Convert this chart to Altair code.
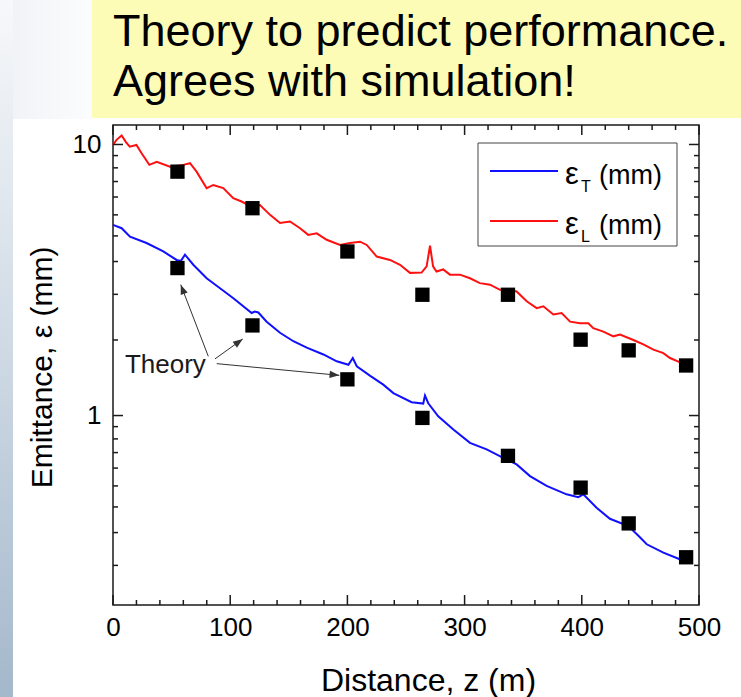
import math
import altair as alt
import pandas as pd

# ---------------- data ----------------
red_z = [0, 3, 7.4, 11, 14.3, 20, 24.4, 31, 37.3, 48.6, 60, 65.7, 71.3, 79.9, 85.6, 94.1,
         102.6, 109.7, 118.3, 125.4, 134, 142.5, 151, 159.6, 166.6, 173.8, 182.3, 193.7,
         202.2, 210.8, 216.5, 225, 236.3, 244.9, 253.4, 263.3, 267.6, 270.5, 273.1, 276,
         281.7, 287.5, 296, 304.6, 313, 321.7, 330.2, 337.3, 344.4, 353, 361.5, 367.2,
         375.7, 382.8, 390, 398.5, 405.6, 409.8, 418.4, 426.9, 432.6, 444, 452.5, 461.1,
         469.6, 475.3, 482.4, 485.2]
red_v = [9.96, 10.4, 10.8, 10.2, 9.81, 9.96, 9.28, 8.41, 8.63, 8.28, 8.41, 8.53, 7.94, 6.9,
         7.09, 6.9, 6.34, 6.16, 5.9, 5.98, 5.5, 5.13, 5.2, 4.91, 4.64, 4.7, 4.45, 4.26,
         4.33, 4.38, 4.26, 3.86, 3.75, 3.6, 3.36, 3.37, 3.55, 4.23, 3.55, 3.4,
         3.46, 3.31, 3.31, 3.21, 3.08, 3.04, 2.91, 2.91, 2.87, 2.64, 2.49, 2.53,
         2.36, 2.39, 2.22, 2.19, 2.19, 2.1, 2.04, 1.96, 1.99, 1.9, 1.83, 1.75,
         1.70, 1.63, 1.58, 1.56]

blue_z = [0, 7.4, 14.5, 28.6, 42.9, 54.3, 58, 61.4, 68.5, 79.9, 91.3, 102.7, 118.3, 121,
          124, 131.1, 142.5, 153.9, 165.3, 179.5, 190.9, 200.9, 204.6, 208, 219.5, 230.6,
          239.2, 254.8, 264.7, 266.2, 269, 277.5, 290.4, 304.6, 318.8, 333, 344.4, 355.8,
          370, 387, 397, 401.3, 412.6, 424, 439.7, 448.3, 455.4, 469.6, 483.6]
blue_v = [5.05, 4.91, 4.57, 4.33, 4.03, 3.75, 3.72, 3.92, 3.6, 3.21, 2.95, 2.71, 2.39, 2.42,
          2.4, 2.22, 2.02, 1.88, 1.78, 1.68, 1.585, 1.54, 1.63, 1.52, 1.40, 1.30,
          1.21, 1.12, 1.107, 1.185, 1.11, 0.994, 0.888, 0.793, 0.75, 0.698, 0.66, 0.598,
          0.55, 0.512, 0.50, 0.512, 0.457, 0.416, 0.391, 0.36, 0.335, 0.312, 0.295]

theory_z = [55, 119, 200, 264, 337, 399, 440, 489]
theory_T = [3.5, 2.15, 1.36, 0.98, 0.71, 0.542, 0.40, 0.30]
theory_L = [7.94, 5.82, 4.03, 2.79, 2.79, 1.905, 1.74, 1.53]

x_major = [0, 100, 200, 300, 400, 500]
x_minor = [20, 40, 60, 80, 120, 140, 160, 180, 220, 240, 260, 280,
           320, 340, 360, 380, 420, 440, 460, 480]
y_major = [1, 10]
y_minor = [0.28, 0.37, 0.46, 0.55, 0.64, 0.73, 0.82, 0.91,
           1.9, 2.8, 3.7, 4.6, 5.5, 6.4, 7.3, 8.2, 9.1]

# annotation arrows (data coordinates)
arrow_z0 = [81.3, 87.0, 88.5]
arrow_v0 = [1.654, 1.618, 1.554]
arrow_z1 = [57.8, 110.7, 193.1]
arrow_v1 = [3.04, 1.916, 1.407]
label_z = [10.2]
label_v = [1.436]
label_text = ["Theory"]

title_lines = ["Theory to predict performance.", "Agrees with simulation!"]

# ---------------- layout ----------------
W, H = 586, 480
XDOM = [0, 500]
YDOM = [0.2, 11.8]
FONT = "Liberation Sans"
INK = "#1a1a1a"

xs = alt.Scale(domain=XDOM, nice=False, zero=False)
ys = alt.Scale(type="log", domain=YDOM, nice=False)

LY0, LY1 = math.log10(YDOM[0]), math.log10(YDOM[1])


def px(z):
    return (z - XDOM[0]) / (XDOM[1] - XDOM[0]) * W


def py(v):
    return H * (LY1 - math.log10(v)) / (LY1 - LY0)


one = pd.DataFrame({"a": [0]})

x_axis = alt.Axis(values=x_major, ticks=False, tickSize=0, domain=False, grid=False,
                  labelFont=FONT, labelFontSize=26, labelColor="black", labelPadding=9,
                  labelFlush=False, labelOverlap=False, labelBound=False, format="d",
                  title="Distance, z (m)", titleFont=FONT, titleFontSize=32,
                  titleFontWeight="normal", titleColor="black", titleX=315, titleY=85,
                  titleAlign="center", titleBaseline="alphabetic", zindex=1)
y_axis = alt.Axis(values=y_major, ticks=False, tickSize=0, domain=False, grid=False,
                  labelFont=FONT, labelFontSize=26, labelColor="black", labelPadding=12,
                  labelFlush=False, labelOverlap=False, labelBound=False, format="~g",
                  title="Emittance, ε (mm)", titleFont=FONT, titleFontSize=30,
                  titleFontWeight="normal", titleColor="black", titleAngle=270,
                  titleX=-71, titleY=242, titleAlign="center", titleBaseline="middle",
                  zindex=1)


def X(field):
    return alt.X(field, scale=xs, axis=x_axis, title="Distance, z (m)")


def Y(field):
    return alt.Y(field, scale=ys, axis=y_axis, title="Emittance, ε (mm)")


# --- slide decoration ---
strip = alt.Chart(one).mark_rect(
    fill=alt.LinearGradient(gradient="linear",
                            stops=[alt.GradientStop(color="#f7f8fa", offset=0),
                                   alt.GradientStop(color="#d3dde7", offset=0.45),
                                   alt.GradientStop(color="#a4b8cb", offset=1)],
                            x1=0, x2=0, y1=0, y2=1)
).encode(x=alt.value(-113), x2=alt.value(-100), y=alt.value(-125), y2=alt.value(572))

corner = alt.Chart(one).mark_rect(
    fill=alt.LinearGradient(gradient="linear",
                            stops=[alt.GradientStop(color="#f1f4f7", offset=0),
                                   alt.GradientStop(color="#fbfcfd", offset=1)],
                            x1=0, x2=1, y1=0, y2=0)
).encode(x=alt.value(-100), x2=alt.value(-21), y=alt.value(-125), y2=alt.value(-6))

yellow = alt.Chart(one).mark_rect(fill="#fcfcb6").encode(
    x=alt.value(-21), x2=alt.value(628), y=alt.value(-125), y2=alt.value(-7))

title1 = alt.Chart(one).mark_text(text=title_lines[0], font=FONT, fontSize=45, align="left",
                                  baseline="alphabetic", color="black").encode(
    x=alt.value(0), y=alt.value(-79))
title2 = alt.Chart(one).mark_text(text=title_lines[1], font=FONT, fontSize=45, align="left",
                                  baseline="alphabetic", color="black").encode(
    x=alt.value(0), y=alt.value(-29))

# --- curves ---
lines_df = pd.DataFrame({
    "z": red_z + blue_z,
    "v": red_v + blue_v,
    "s": ["L"] * len(red_z) + ["T"] * len(blue_z),
})
lines = alt.Chart(lines_df).mark_line(strokeWidth=2).encode(
    x=X("z:Q"),
    y=Y("v:Q"),
    color=alt.Color("s:N", scale=alt.Scale(domain=["T", "L"], range=["#1010ff", "#ff1010"]),
                    legend=None),
    detail="s:N",
)

sq_df = pd.DataFrame({"z": theory_z + theory_z, "v": theory_T + theory_L})
squares = alt.Chart(sq_df).mark_square(size=205, color="black", opacity=1).encode(
    x=X("z:Q"), y=Y("v:Q"))

# --- ticks (inward, all four sides) ---
xt_major = pd.DataFrame({"z": x_major})
xt_minor = pd.DataFrame({"z": x_minor})
yt_major = pd.DataFrame({"v": y_major})
yt_minor = pd.DataFrame({"v": y_minor})
tick_layers = []
for df, L in [(xt_major, 10), (xt_minor, 5)]:
    for y0, y1 in [(H, H - L), (0, L)]:
        tick_layers.append(alt.Chart(df).mark_rule(strokeWidth=1.5, color=INK).encode(
            x=X("z:Q"), y=alt.value(y0), y2=alt.value(y1)))
for df, L in [(yt_major, 10), (yt_minor, 5)]:
    for x0, x1 in [(0, L), (W, W - L)]:
        tick_layers.append(alt.Chart(df).mark_rule(strokeWidth=1.5, color=INK).encode(
            y=Y("v:Q"), x=alt.value(x0), x2=alt.value(x1)))

# --- annotation arrows ---
angles = []
for z0, v0, z1, v1 in zip(arrow_z0, arrow_v0, arrow_z1, arrow_v1):
    dx = px(z1) - px(z0)
    dy = py(v1) - py(v0)
    angles.append(math.degrees(math.atan2(dx, -dy)) % 360)
arr_df = pd.DataFrame({"z": arrow_z0, "v": arrow_v0, "z1": arrow_z1, "v1": arrow_v1,
                       "ang": angles})
arrow_lines = alt.Chart(arr_df).mark_rule(strokeWidth=1, color="#333333").encode(
    x=X("z:Q"), x2="z1:Q", y=Y("v:Q"), y2="v1:Q")
head_df = pd.DataFrame({"z": arrow_z1, "v": arrow_v1, "ang": angles})
arrow_heads = alt.Chart(head_df).mark_point(
    shape="M0,0L-0.38,1L0.38,1Z", filled=True, size=380, color="#333333", opacity=1,
    strokeWidth=0).encode(
    x=X("z:Q"), y=Y("v:Q"), angle=alt.Angle("ang:Q", scale=None))
theory_lbl = alt.Chart(pd.DataFrame({"z": label_z, "v": label_v, "t": label_text})).mark_text(
    font=FONT, fontSize=26, align="left", baseline="alphabetic", color="#1a1a1a").encode(
    x=X("z:Q"), y=Y("v:Q"), text="t:N")

# --- legend (drawn) ---
leg_box = alt.Chart(one).mark_rect(fill="white", stroke="#444444", strokeWidth=1).encode(
    x=alt.value(365), x2=alt.value(564), y=alt.value(18), y2=alt.value(121))
leg_layers = [leg_box]
for row, (col, sub) in enumerate([("#1010ff", "T"), ("#ff1010", "L")]):
    yl = 46 + 50 * row
    yb = 59 + 50 * row
    leg_layers.append(alt.Chart(one).mark_rule(strokeWidth=2, color=col).encode(
        x=alt.value(377), x2=alt.value(445), y=alt.value(yl)))
    leg_layers.append(alt.Chart(one).mark_text(text="ε", font=FONT, fontSize=31, align="left",
                                               baseline="alphabetic", color="black").encode(
        x=alt.value(452), y=alt.value(yb)))
    leg_layers.append(alt.Chart(one).mark_text(text=sub, font=FONT, fontSize=16, align="left",
                                               baseline="alphabetic", color="black").encode(
        x=alt.value(468), y=alt.value(yb + 8)))
    leg_layers.append(alt.Chart(one).mark_text(text="(mm)", font=FONT, fontSize=27,
                                               align="left", baseline="alphabetic",
                                               color="black").encode(
        x=alt.value(486), y=alt.value(yb)))

chart = alt.layer(
    lines, strip, corner, yellow, title1, title2,
    *tick_layers, arrow_lines, arrow_heads, theory_lbl, squares, *leg_layers,
).properties(
    width=W, height=H,
    padding={"left": 113, "top": 125, "right": 42, "bottom": 92},
    autosize=alt.AutoSizeParams(type="none"),
    background="white",
).configure_view(stroke=INK, strokeWidth=1.5)

chart.save("out.html", embed_options={"renderer": "svg", "actions": False})
